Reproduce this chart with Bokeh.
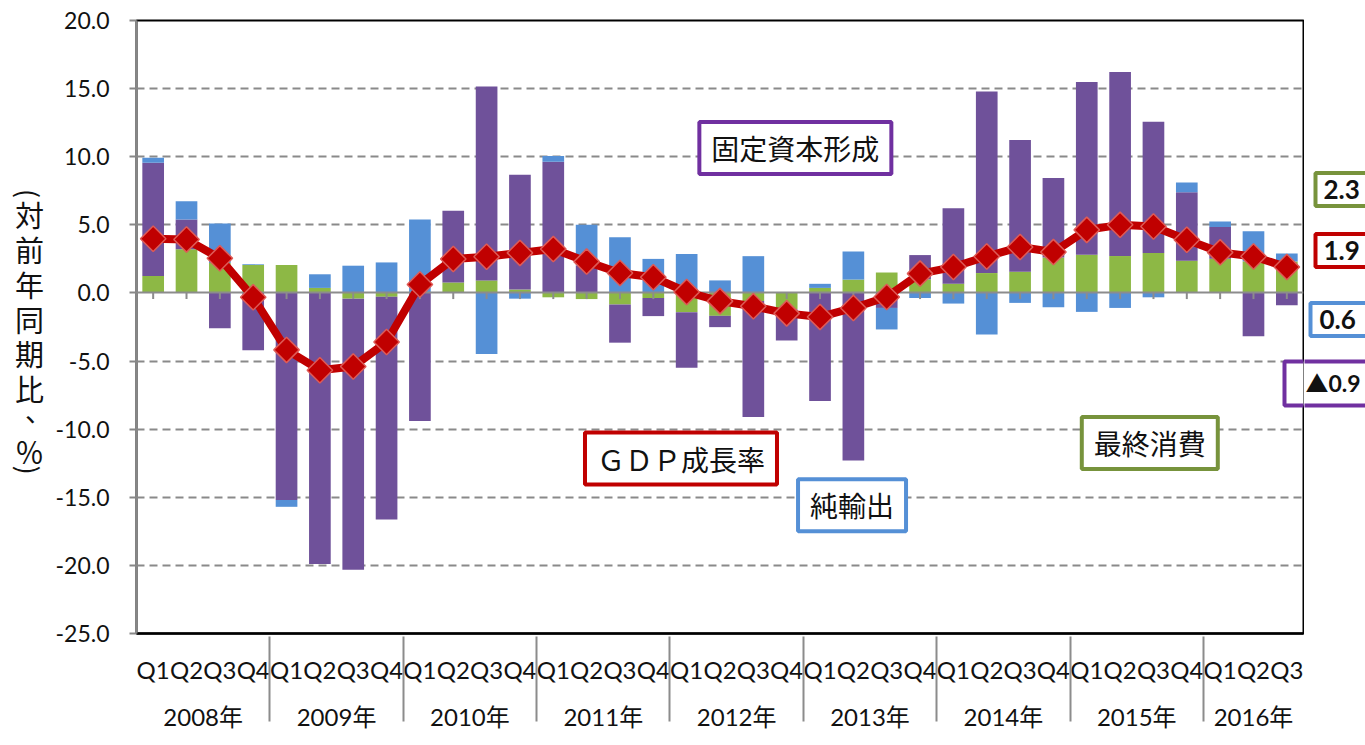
import numpy as np
from bokeh.plotting import figure
from bokeh.layouts import row
from bokeh.models import (FactorRange, Range1d, FixedTicker, NumeralTickFormatter,
                          Label, ColumnDataSource)
from bokeh.embed import file_html
from bokeh.resources import INLINE

years = ["2008年", "2009年", "2010年", "2011年", "2012年", "2013年", "2014年", "2015年", "2016年"]
quarters = ["Q1", "Q2", "Q3", "Q4"]
factors = [(y, q) for y in years for q in quarters][:35]

# contributions (percentage points), 2008Q1 .. 2016Q3
consumption = [1.25, 3.2, 2.2, 2.05,
               2.05, 0.37, -0.42, -0.28,
               0.0, 0.77, 0.92, 0.25,
               -0.32, -0.45, -0.85, -0.37,
               -1.41, -1.68, -0.6, -1.2,
               0.37, 0.98, 1.5, 1.0,
               0.68, 1.46, 1.56, 2.6,
               2.8, 2.71, 2.93, 2.37,
               2.51, 2.32, 2.3]
fixed_capital = [8.3, 2.2, -2.6, -4.2,
                 -15.2, -19.9, -19.9, -16.35,
                 -9.4, 5.27, 14.23, 8.43,
                 9.63, 2.0, -2.8, -1.33,
                 -4.08, -0.83, -8.5, -2.29,
                 -7.93, -12.3, -1.1, 1.78,
                 5.54, 13.32, 9.66, 5.83,
                 12.68, 13.51, 9.63, 5.02,
                 2.34, -3.17, -0.9]
net_exports = [0.37, 1.34, 2.9, 0.05,
               -0.5, 1.0, 2.0, 2.24,
               5.4, 0.0, -4.48, -0.42,
               0.42, 3.0, 4.08, 2.5,
               2.86, 0.92, 2.7, 0.0,
               0.3, 2.07, -1.58, -0.37,
               -0.78, -3.05, -0.73, -1.05,
               -1.39, -1.1, -0.32, 0.71,
               0.39, 2.2, 0.6]
gdp = [3.98, 3.93, 2.54, -0.32,
       -4.18, -5.67, -5.4, -3.6,
       0.62, 2.49, 2.66, 2.94,
       3.22, 2.3, 1.46, 1.15,
       0.07, -0.6, -0.98, -1.5,
       -1.76, -1.1, -0.3, 1.42,
       1.9, 2.68, 3.37, 3.0,
       4.63, 5.0, 4.88, 3.9,
       2.98, 2.68, 1.9]

y_ticks = [-25, -20, -15, -10, -5, 0, 5, 10, 15, 20]
grid_ticks = [-20, -15, -10, -5, 5, 10, 15]

latest_labels = ["2.3", "1.9", "0.6", "▲0.9"]
y_title_chars = ["(", "対", "前", "年", "同", "期", "比", "、", "％", ")"]

PURPLE = "#6F519A"
GREEN = "#8DB845"
BLUE = "#5590D6"
RED = "#C00000"
PURPLE_BOX = "#7030A0"
GREEN_BOX = "#77933C"
CJK = "Noto Sans CJK JP"

H = 744
TOP = 20
BOTTOM = 111
LEFT_W = 52
RIGHT_W = 61

y_range = Range1d(-25, 20)

# ---------------- main chart ----------------
p = figure(width=1304 - LEFT_W, height=H, output_backend="svg", toolbar_location=None,
           x_range=FactorRange(*factors, factor_padding=0, group_padding=0,
                               subgroup_padding=0, range_padding=0),
           y_range=y_range,
           min_border_left=135 - LEFT_W, min_border_right=1, min_border_top=TOP,
           min_border_bottom=BOTTOM)
p.background_fill_color = "white"
p.border_fill_color = "white"
p.outline_line_color = "black"
p.outline_line_width = 2

p.xgrid.visible = False
p.ygrid.ticker = FixedTicker(ticks=grid_ticks)
p.ygrid.grid_line_color = "#8a8a8a"
p.ygrid.grid_line_width = 2
p.ygrid.grid_line_dash = "8 5"

# stacked bars (positive parts stacked up, negative parts stacked down)
n = len(factors)
pos = np.zeros(n)
neg = np.zeros(n)
for vals, col in [(consumption, GREEN), (fixed_capital, PURPLE), (net_exports, BLUE)]:
    v = np.array(vals, dtype=float)
    bottom = np.where(v >= 0, pos, neg)
    top = bottom + v
    pos = np.where(v >= 0, top, pos)
    neg = np.where(v < 0, top, neg)
    src = ColumnDataSource(dict(x=factors, bottom=bottom, top=top))
    p.vbar(x="x", bottom="bottom", top="top", width=0.65, source=src,
           fill_color=col, line_color=None)

# zero line with small ticks
p.hspan(y=[0], line_color="#8c8c8c", line_width=2)
tick_src = ColumnDataSource(dict(x=factors, y0=[0] * n, y1=[-0.45] * n))
p.segment(x0="x", x1="x", y0="y0", y1="y1", source=tick_src,
          line_color="#8c8c8c", line_width=2)

# GDP line
gsrc = ColumnDataSource(dict(x=factors, y=gdp))
p.line(x="x", y="y", source=gsrc, line_color=RED, line_width=8)
p.scatter(x="x", y="y", source=gsrc, marker="square", angle=np.pi / 4, size=18,
          fill_color=RED, line_color="#DE5B57", line_width=1.5)

# axes
ya = p.yaxis[0]
ya.ticker = FixedTicker(ticks=y_ticks)
ya.formatter = NumeralTickFormatter(format="0.0")
ya.axis_line_color = "#878787"
ya.axis_line_width = 2
ya.major_tick_line_color = "#878787"
ya.major_tick_line_width = 2
ya.major_tick_out = 7
ya.major_tick_in = 0
ya.minor_tick_line_color = None
ya.major_label_standoff = 20
ya.major_label_text_font = "Lato"
ya.major_label_text_font_size = "23px"
ya.major_label_text_color = "#111111"

xa = p.xaxis[0]
xa.axis_line_color = "black"
xa.axis_line_width = 2.5
xa.major_tick_line_color = None
xa.minor_tick_line_color = None
xa.major_label_standoff = 15
xa.major_label_text_font = "Lato"
xa.major_label_text_font_size = "24px"
xa.major_label_text_color = "#111111"
xa.group_text_font = "Lato, 'Noto Sans CJK JP'"
xa.group_text_font_size = "24px"
xa.group_text_font_style = "normal"
xa.group_text_color = "#111111"
xa.separator_line_color = "#8c8c8c"
xa.separator_line_width = 2


def boxed(fig, x, y, text, color, size="28px", font=CJK, bold=False, align="center", pad=None,
          border=True):
    if pad is None:
        pad = dict(left=12, right=12, top=6, bottom=6)
    fig.add_layout(Label(x=x, y=y, text=text, text_font=font, text_font_size=size,
                         text_font_style="bold" if bold else "normal",
                         text_align=align, text_baseline="middle", text_color="#111111",
                         background_fill_color="white" if border else None,
                         border_line_color=color if border else None,
                         border_line_width=4, padding=pad))


boxed(p, 19.76, 10.64, "固定資本形成", PURPLE_BOX)
boxed(p, 16.33, -12.16, "ＧＤＰ成長率", RED)
boxed(p, 21.46, -15.59, "純輸出", BLUE)
boxed(p, 30.39, -11.02, "最終消費", GREEN_BOX)
# left part of the "▲0.9" box, which starts inside the plot frame
p.quad(left=[34.43], right=[36.0], top=[-5.04], bottom=[-8.27],
       fill_color="white", line_color=PURPLE_BOX, line_width=4)


def side_fig(w):
    f = figure(width=w, height=H, output_backend="svg", toolbar_location=None,
               x_range=Range1d(0, w), y_range=y_range,
               x_axis_location=None, y_axis_location=None,
               min_border_left=0, min_border_right=0, min_border_top=TOP,
               min_border_bottom=BOTTOM)
    f.grid.visible = False
    f.outline_line_color = None
    f.background_fill_color = "white"
    f.border_fill_color = "white"
    return f


# ---------------- left: vertical axis title (upright, top to bottom) ----------------
lf = side_fig(LEFT_W)
title_y = [7.3, 5.83, 3.26, 0.69, -1.89, -4.38, -6.95, -8.6, -11.57, -13.0]
for ch, ty in zip(y_title_chars, title_y):
    if ch in "()":
        # brackets turned for vertical writing
        lf.add_layout(Label(x=29, y=ty, text=ch, text_font=CJK, text_font_size="27px",
                            angle=-np.pi / 2, text_align="center", text_baseline="middle",
                            text_color="#111111"))
    elif ch == "、":
        lf.add_layout(Label(x=38, y=ty, text=ch, text_font=CJK, text_font_size="27px",
                            text_align="center", text_baseline="middle",
                            text_color="#111111"))
    else:
        lf.add_layout(Label(x=29, y=ty, text=ch, text_font=CJK, text_font_size="29px",
                            text_align="center", text_baseline="middle",
                            text_color="#111111"))

# ---------------- right: latest values ----------------
rf = side_fig(RIGHT_W)
rp = dict(left=8, right=40, top=7, bottom=7)
boxed(rf, 11, 7.59, latest_labels[0], GREEN_BOX, size="26px", font="Lato", bold=True, align="left", pad=rp)
boxed(rf, 11, 3.11, latest_labels[1], RED, size="26px", font="Lato", bold=True, align="left", pad=rp)
boxed(rf, 6, -1.95, latest_labels[2], BLUE, size="26px", font="Lato", bold=True, align="left",
      pad=dict(left=9, right=40, top=7, bottom=7))
rf.quad(left=[-30], right=[90], top=[-5.04], bottom=[-8.27],
        fill_color="white", line_color=PURPLE_BOX, line_width=4)
boxed(rf, 1, -6.6, latest_labels[3], PURPLE_BOX, size="23px",
      font="Lato, 'Noto Sans CJK JP'", bold=True, align="left",
      pad=dict(left=0, right=0, top=0, bottom=0), border=False)

layout = row(lf, p, rf, spacing=0)
open("out.html", "w").write(file_html(layout, INLINE))
